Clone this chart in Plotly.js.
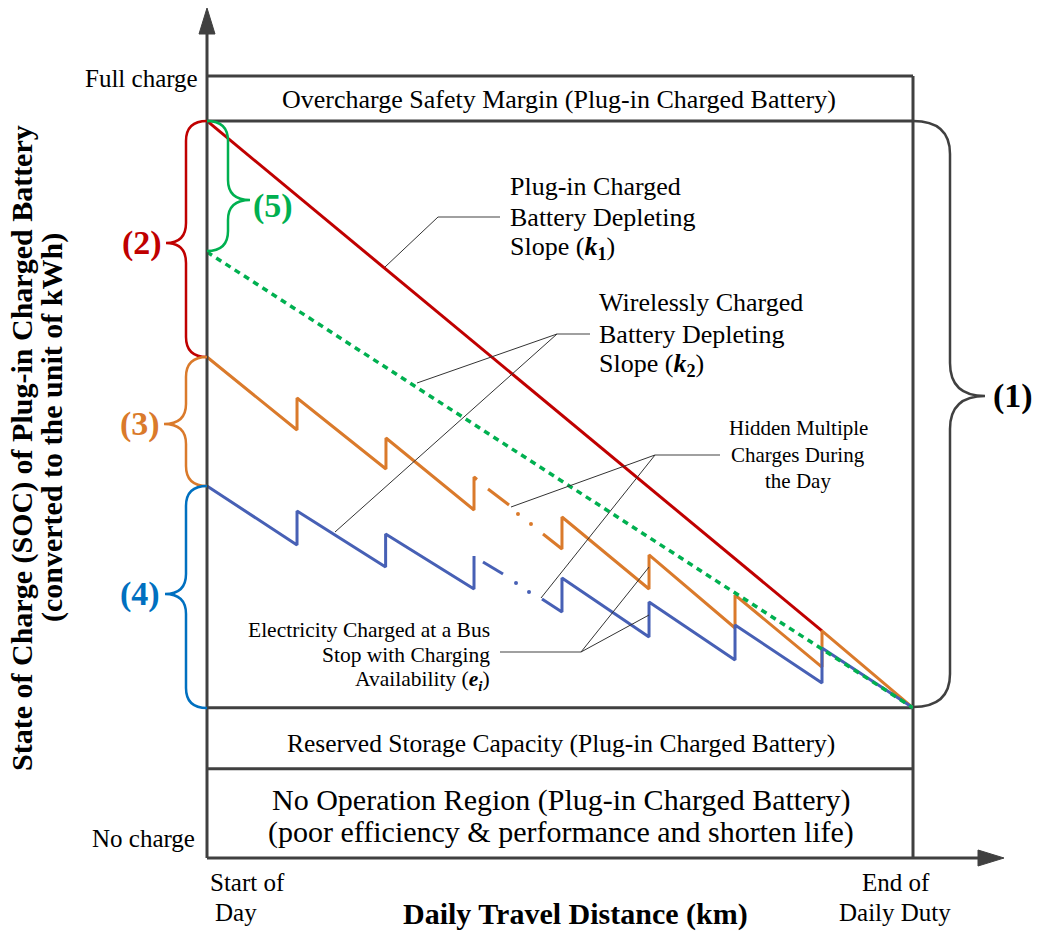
<!DOCTYPE html>
<html><head><meta charset="utf-8">
<script src="https://cdn.plot.ly/plotly-3.0.1.min.js"></script>
<style>html,body{margin:0;padding:0;background:#fff;overflow:hidden}#chart{width:1037px;height:932px}</style>
</head><body><div id="chart"></div>
<script>
// ---- Data (x: daily travel distance, % of daily duty; y: SOC, % of full charge) ----
const socLevels = [100, 94.25, 19.2, 11.4];          // full charge, top of operating region, bottom of operating region, no-op region top
const redX = [0, 87.11];
const redY = [94.25, 29.05];
const greenX = [0, 100];
const greenY = [77.5, 19.2];
const orangeX = [0, 12.75, 12.75, 25.35, 25.35, 37.82, 37.82, 38.24, null, 39.80, 42.78, null, 47.59, 50.28, 50.28, 62.61, 62.61, 74.79, 74.79, 87.11, 87.11, 100];
const orangeY = [64.07, 54.73, 58.82, 49.74, 53.71, 44.50, 48.72, 48.40, null, 47.19, 45.14, null, 41.43, 39.51, 43.61, 34.40, 38.75, 29.41, 33.63, 24.42, 29.05, 19.2];
const orangeDotsX = [44.05, 45.89];
const orangeDotsY = [43.99, 42.71];
const blueX = [0, 12.75, 12.75, 25.3, 25.3, 37.82, 37.82, null, 39.09, 41.93, null, 47.45, 50.28, 50.28, 62.61, 62.61, 74.79, 74.79, 87.11, 87.11, 100];
const blueY = [47.57, 40.03, 44.37, 37.21, 41.43, 34.40, 38.62, null, 37.85, 36.32, null, 33.12, 31.46, 35.81, 28.26, 32.74, 25.32, 29.80, 22.38, 26.85, 19.2];
const blueDotsX = [43.77, 45.61];
const blueDotsY = [35.17, 34.02];

// ---- Layout helpers ----
const W = 1037, H = 932;
const X0px = 207, X1px = 913, Y0px = 858, Y100px = 76;
const sx = (X1px - X0px) / 100, sy = (Y0px - Y100px) / 100;
const xRange = [-X0px / sx, (W - X0px) / sx];
const yRange = [-(H - Y0px) / sy, Y0px / sy];
const PX = p => p / W, PY = p => 1 - p / H;
const P = (x, y) => PX(x) + ',' + PY(y);

const DARK = '#404040';
const RED = '#C00000', GREEN = '#00B050', ORANGE = '#DA7A2B', BLUE = '#4760B5', BRACEBLUE = '#0070C0';
const SERIF = 'Liberation Serif, Times New Roman, serif';

function brace(xe, xv, xc, yT, yM, yB, r) {
  return 'M' + P(xe, yT) + ' Q' + P(xv, yT) + ' ' + P(xv, yT + r) +
    ' L' + P(xv, yM - r) + ' Q' + P(xv, yM) + ' ' + P(xc, yM) +
    ' Q' + P(xv, yM) + ' ' + P(xv, yM + r) +
    ' L' + P(xv, yB - r) + ' Q' + P(xv, yB) + ' ' + P(xe, yB);
}
function pline(pts, color, width) {
  let d = 'M' + P(pts[0][0], pts[0][1]);
  for (let i = 1; i < pts.length; i++) d += ' L' + P(pts[i][0], pts[i][1]);
  return {type: 'path', xref: 'paper', yref: 'paper', path: d, line: {color: color, width: width}};
}

const traces = [
  {x: redX, y: redY, mode: 'lines', line: {color: RED, width: 3}, hoverinfo: 'skip'},
  {x: orangeX, y: orangeY, mode: 'lines', line: {color: ORANGE, width: 3}, connectgaps: false, hoverinfo: 'skip'},
  {x: orangeDotsX, y: orangeDotsY, mode: 'markers', marker: {color: ORANGE, size: 4}, hoverinfo: 'skip'},
  {x: blueX, y: blueY, mode: 'lines', line: {color: BLUE, width: 3}, connectgaps: false, hoverinfo: 'skip'},
  {x: blueDotsX, y: blueDotsY, mode: 'markers', marker: {color: BLUE, size: 4}, hoverinfo: 'skip'},
  {x: greenX, y: greenY, mode: 'lines', line: {color: GREEN, width: 3.5, dash: '6px,5px'}, hoverinfo: 'skip'}
];

const shapes = [];
// region lines
socLevels.forEach(v => shapes.push({type: 'line', xref: 'x', yref: 'y', x0: 0, x1: 100, y0: v, y1: v, line: {color: DARK, width: 3}, layer: 'below'}));
// right border (end of daily duty)
shapes.push({type: 'line', xref: 'x', yref: 'y', x0: 100, x1: 100, y0: 0, y1: 100, line: {color: DARK, width: 3}, layer: 'below'});
// axes with arrows
shapes.push(pline([[207, 858], [207, 30]], DARK, 3));
shapes.push(pline([[207, 858], [980, 858]], DARK, 3));
shapes.push({type: 'path', xref: 'paper', yref: 'paper', path: 'M' + P(199, 34) + ' L' + P(207, 8) + ' L' + P(215, 34) + ' Z', fillcolor: DARK, line: {color: DARK, width: 1}});
shapes.push({type: 'path', xref: 'paper', yref: 'paper', path: 'M' + P(978, 850) + ' L' + P(1004, 858) + ' L' + P(978, 866) + ' Z', fillcolor: DARK, line: {color: DARK, width: 1}});
// braces
shapes.push({type: 'path', xref: 'paper', yref: 'paper', path: brace(207, 186, 166, 121, 243, 357, 20), line: {color: RED, width: 2.5}});
shapes.push({type: 'path', xref: 'paper', yref: 'paper', path: brace(207, 186, 164, 357, 424, 486, 20), line: {color: ORANGE, width: 2.5}});
shapes.push({type: 'path', xref: 'paper', yref: 'paper', path: brace(207, 186, 165, 486, 594, 708, 20), line: {color: BRACEBLUE, width: 2.5}});
shapes.push({type: 'path', xref: 'paper', yref: 'paper', path: brace(207, 228, 250, 121, 200, 251, 20), line: {color: GREEN, width: 2.5}});
shapes.push({type: 'path', xref: 'paper', yref: 'paper', path: brace(913, 950, 985, 121, 396, 707, 33), line: {color: DARK, width: 2.5}});
// leader lines
const LG = '#808080', LD = '#333333';
shapes.push(pline([[500, 217], [438, 217]], LG, 1.3));
shapes.push(pline([[438, 217], [385, 267]], LD, 1));
shapes.push(pline([[590, 334], [557, 334]], LG, 1.3));
shapes.push(pline([[557, 334], [417, 383]], LD, 1));
shapes.push(pline([[557, 334], [335, 532]], LD, 1));
shapes.push(pline([[720, 455], [655, 455]], LG, 1.3));
shapes.push(pline([[655, 455], [511, 507]], LD, 1));
shapes.push(pline([[655, 455], [541, 598]], LD, 1));
shapes.push(pline([[500, 652], [581, 652]], LG, 1.3));
shapes.push(pline([[581, 652], [649, 567]], LD, 1));
shapes.push(pline([[581, 652], [649, 615]], LD, 1));

function ann(text, x, y, size, opts) {
  return Object.assign({text: text, xref: 'paper', yref: 'paper', x: PX(x), y: PY(y), showarrow: false,
    xanchor: 'center', yanchor: 'middle', font: {family: SERIF, size: size, color: '#000'}}, opts || {});
}
const annotations = [
  ann('Full charge', 200, 78, 25, {xanchor: 'right'}),
  ann('No charge', 197, 838, 25, {xanchor: 'right'}),
  ann('Overcharge Safety Margin (Plug-in Charged Battery)', 559, 100, 26),
  ann('Reserved Storage Capacity (Plug-in Charged Battery)', 561, 743, 25.5),
  ann('No Operation Region (Plug-in Charged Battery)', 561, 800, 30),
  ann('(poor efficiency &amp; performance and shorten life)', 561, 832, 30),
  ann('Start of', 247, 882, 25),
  ann('Day', 213, 912, 25, {xanchor: 'left'}),
  ann('End of', 896, 882, 25),
  ann('Daily Duty', 895, 912, 25),
  ann('<b>Daily Travel Distance (km)</b>', 575, 914, 30),
  ann('<b>State of Charge (SOC) of Plug-in Charged Battery</b>', 22, 448, 30, {textangle: -90}),
  ann('<b>(converted to the unit of kWh)</b>', 52, 428, 30, {textangle: -90}),
  ann('Plug-in Charged', 508, 186, 26, {xanchor: 'left'}),
  ann('Battery Depleting', 508, 217, 26, {xanchor: 'left'}),
  ann('Slope (<b><i>k</i><sub>1</sub></b>)', 508, 248, 26, {xanchor: 'left'}),
  ann('Wirelessly Charged', 597, 302, 26, {xanchor: 'left'}),
  ann('Battery Depleting', 597, 334, 26, {xanchor: 'left'}),
  ann('Slope (<b><i>k</i><sub>2</sub></b>)', 597, 365, 26, {xanchor: 'left'}),
  ann('Hidden Multiple', 798, 428, 21),
  ann('Charges During', 798, 455, 21),
  ann('the Day', 798, 481, 21),
  ann('Electricity Charged at a Bus', 492, 630, 21.5, {xanchor: 'right'}),
  ann('Stop with Charging', 492, 655, 21.5, {xanchor: 'right'}),
  ann('Availability (<b><i>e</i><sub><i>i</i></sub></b>)', 492, 680, 21.5, {xanchor: 'right'}),
  ann('<b>(2)</b>', 142, 243, 34, {font: {family: SERIF, size: 34, color: RED}}),
  ann('<b>(3)</b>', 140, 424, 34, {font: {family: SERIF, size: 34, color: ORANGE}}),
  ann('<b>(4)</b>', 140, 594, 34, {font: {family: SERIF, size: 34, color: BRACEBLUE}}),
  ann('<b>(5)</b>', 273, 206, 34, {font: {family: SERIF, size: 34, color: GREEN}}),
  ann('<b>(1)</b>', 1013, 396, 34, {font: {family: SERIF, size: 34, color: '#000'}})
];

const layout = {
  width: W, height: H,
  margin: {l: 0, r: 0, t: 0, b: 0, pad: 0},
  paper_bgcolor: '#fff', plot_bgcolor: '#fff',
  showlegend: false,
  xaxis: {range: xRange, visible: false, fixedrange: true},
  yaxis: {range: yRange, visible: false, fixedrange: true},
  shapes: shapes,
  annotations: annotations
};
Plotly.newPlot('chart', traces, layout, {staticPlot: true, displayModeBar: false});
</script>
</body></html>
